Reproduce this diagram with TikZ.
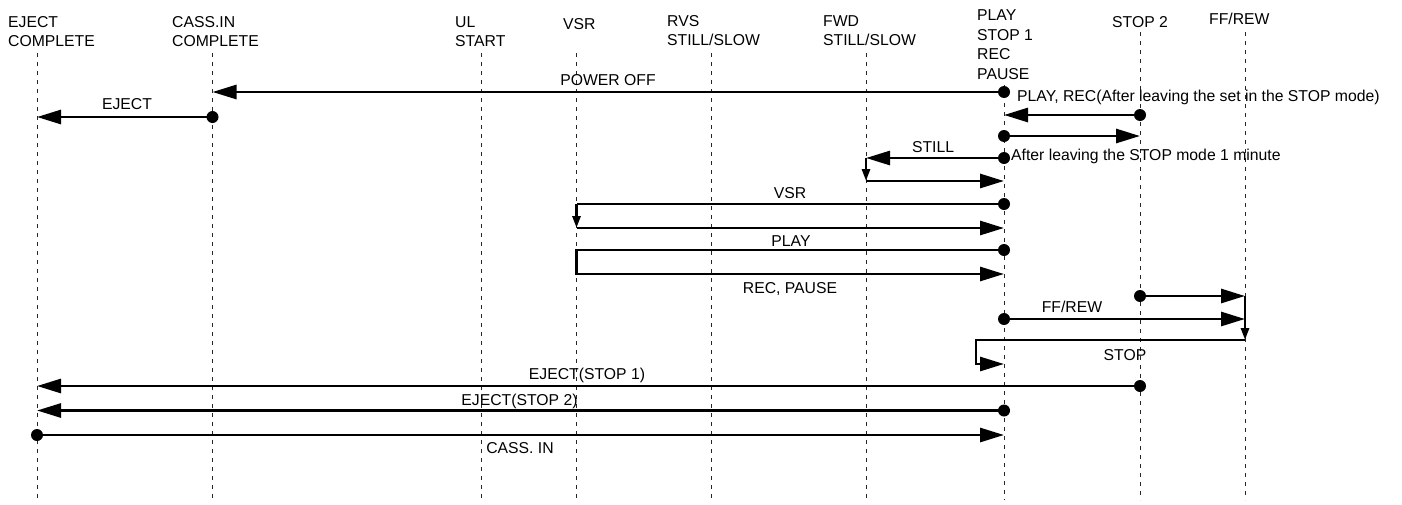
\documentclass[tikz,border=0pt]{standalone}
\usepackage{fontspec}
\setmainfont{Liberation Sans}
\usetikzlibrary{arrows.meta, positioning}

\tikzset{
  lane/.style={black!85, line width=0.9pt, dash pattern=on 4pt off 5pt},
  flow/.style={line width=2.8pt, -{Triangle[length=24pt, width=14pt]}},
  link/.style={line width=2.8pt},
  drop/.style={line width=2.8pt, -{Triangle[length=12pt, width=8pt]}},
  dot/.style={circle, fill, inner sep=0pt, minimum size=12pt},
  lbl/.style={inner sep=0pt, font=\fontsize{15.75}{19}\selectfont},
  head/.style={lbl, align=left, anchor=north west},
}

\begin{document}
\begin{tikzpicture}[x=1pt, y=-1pt]
  \useasboundingbox (0,0) rectangle (1402,504);
  % Lanes (dashed)
  \coordinate (bot) at (0,500);
  \coordinate (ej) at (37,53);
  \coordinate (cs) at (212.5,53);
  \coordinate (ul) at (481,53);
  \coordinate (vs) at (576.5,53);
  \coordinate (rv) at (711.5,53);
  \coordinate (fw) at (866,53);
  \coordinate (pl) at (1004,85);
  \coordinate (st) at (1140,32);
  \coordinate (ff) at (1245,32);
  \draw[lane] (ej) -- (ej |- bot);
  \draw[lane] (cs) -- (cs |- bot);
  \draw[lane] (ul) -- (ul |- bot);
  \draw[lane] (vs) -- (vs |- bot);
  \draw[lane] (rv) -- (rv |- bot);
  \draw[lane] (fw) -- (fw |- bot);
  \draw[lane] (pl) -- (pl |- bot);
  \draw[lane] (st) -- (st |- bot);
  \draw[lane] (ff) -- (ff |- bot);
  % Lane heads
  \node[head] (ejH) at (8,16) {EJECT\\COMPLETE};
  \node[head] (csH) at (172,16) {CASS.IN\\COMPLETE};
  \node[head] (ulH) at (455,16) {UL\\START};
  \node[head] (vsH) at (563,18.5) {VSR};
  \node[head] (rvH) at (667,15) {RVS\\STILL/SLOW};
  \node[head] (fwH) at (823,15) {FWD\\STILL/SLOW};
  \node[head, font=\fontsize{15.75}{19.7}\selectfont] (plH) at (977,9.5) {PLAY\\STOP 1\\REC\\PAUSE};
  \node[head] (stH) at (1112,16) {STOP 2};
  \node[head] (ffH) at (1209,13) {FF/REW};
  % Rows
  \coordinate (rPow) at (0,92);
  \coordinate (rEj) at (0,117);
  \coordinate (rRec) at (0,115);
  \coordinate (rStop) at (0,136);
  \coordinate (rStill) at (0,158);
  \coordinate (rStillB) at (0,181);
  \coordinate (rVsr) at (0,204);
  \coordinate (rVsrB) at (0,228);
  \coordinate (rPlay) at (0,250);
  \coordinate (rPlayB) at (0,274);
  \coordinate (rFf1) at (0,296);
  \coordinate (rFf2) at (0,319);
  \coordinate (rStopA) at (0,340);
  \coordinate (rStopB) at (0,364);
  \coordinate (rEj1) at (0,386);
  \coordinate (rEj2) at (0,410.5);
  \coordinate (rCass) at (0,435);
  \coordinate (kneeA) at (976,340);
  \coordinate (kneeB) at (976,364);
  % Start dots
  \node[dot] (dPow) at (pl |- rPow) {};
  \node[dot] (dEj) at (cs |- rEj) {};
  \node[dot] (dRec) at (st |- rRec) {};
  \node[dot] (dStop) at (pl |- rStop) {};
  \node[dot] (dStill) at (pl |- rStill) {};
  \node[dot] (dVsr) at (pl |- rVsr) {};
  \node[dot] (dPlay) at (pl |- rPlay) {};
  \node[dot] (dFf1) at (st |- rFf1) {};
  \node[dot] (dFf2) at (pl |- rFf2) {};
  \node[dot] (dEj1) at (st |- rEj1) {};
  \node[dot] (dEj2) at (pl |- rEj2) {};
  \node[dot] (dCass) at (ej |- rCass) {};
  % Transitions
  \draw[flow] (dPow.center) -- (cs |- rPow);
  \draw[flow] (dEj.center) -- (ej |- rEj);
  \draw[flow] (dRec.center) -- (pl |- rRec);
  \draw[flow] (dStop.center) -- (st |- rStop);
  \draw[flow] (dStill.center) -- (fw |- rStill);
  \draw[drop] (fw |- rStill) -- (fw |- rStillB);
  \draw[flow] (fw |- rStillB) -- (pl |- rStillB);
  \draw[link] (dVsr.center) -- (vs |- rVsr);
  \draw[drop] (vs |- rVsr) -- (vs |- rVsrB);
  \draw[flow] (vs |- rVsrB) -- (pl |- rVsrB);
  \draw[flow] (dPlay.center) -- (vs |- rPlay) -- (vs |- rPlayB) -- (pl |- rPlayB);
  \draw[flow] (dFf1.center) -- (ff |- rFf1);
  \draw[flow] (dFf2.center) -- (ff |- rFf2);
  \draw[drop] (ff |- rFf1) -- (ff |- rStopA);
  \draw[flow] (ff |- rStopA) -- (kneeA) -- (kneeB) -- (pl |- rStopB);
  \draw[flow] (dEj1.center) -- (ej |- rEj1);
  \draw[flow] (dEj2.center) -- (ej |- rEj2);
  \draw[flow] (dCass.center) -- (pl |- rCass);
  % Labels
  \node[lbl, anchor=base] (tPow) at (608,85) {POWER OFF};
  \node[lbl, anchor=base] (tEj) at (127,109) {EJECT};
  \node[lbl, anchor=base west] (tRec) at (1017,101) {PLAY, REC(After leaving the set in the STOP mode)};
  \node[lbl, anchor=base] (tStill) at (933,152) {STILL};
  \node[lbl, anchor=base west] (tMin) at (1011,160) {After leaving the STOP mode 1 minute};
  \node[lbl, anchor=base] (tVsr) at (790,198) {VSR};
  \node[lbl, anchor=base] (tPlay) at (791,246) {PLAY};
  \node[lbl, anchor=base] (tPause) at (790,293) {REC, PAUSE};
  \node[lbl, anchor=base] (tFf) at (1072,312) {FF/REW};
  \node[lbl, anchor=base] (tStop) at (1125,360) {STOP};
  \node[lbl, anchor=base] (tEj1) at (587,379) {EJECT(STOP 1)};
  \node[lbl, anchor=base] (tEj2) at (519.5,405) {EJECT(STOP 2)};
  \node[lbl, anchor=base] (tCass) at (520,453) {CASS. IN};
\end{tikzpicture}
\end{document}
